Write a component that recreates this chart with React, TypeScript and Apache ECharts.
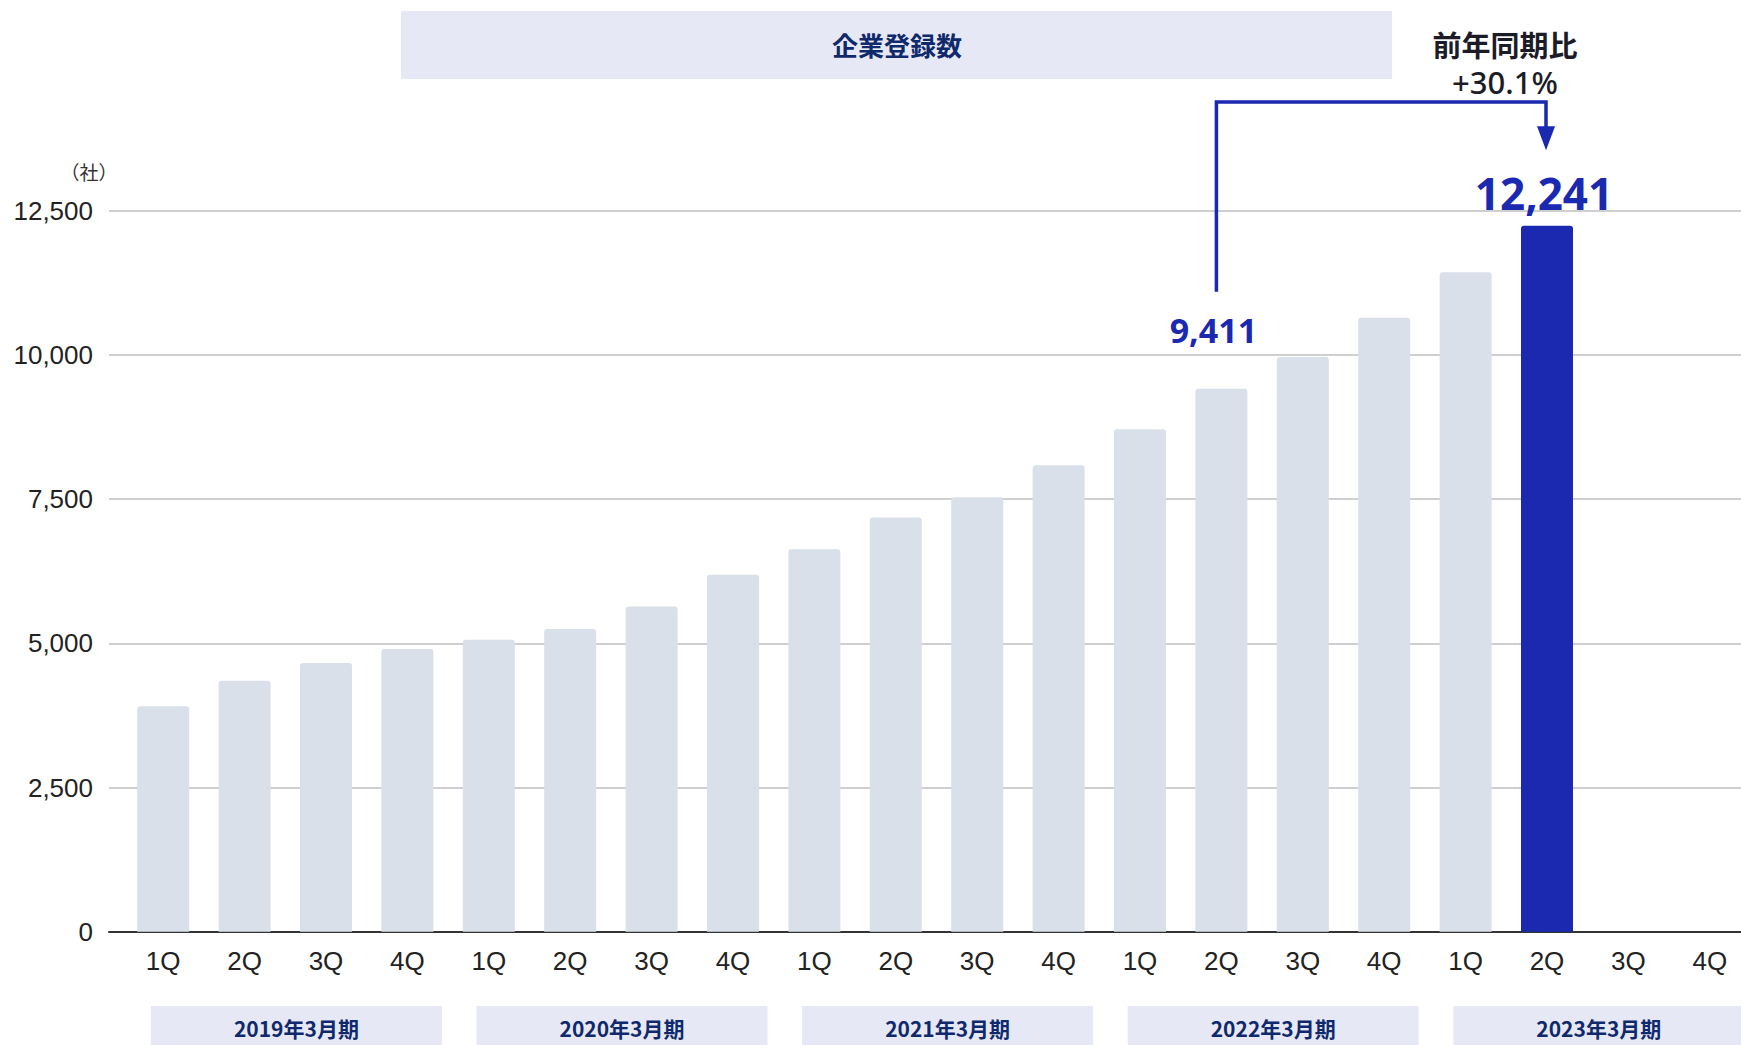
import React, { useEffect, useRef } from "react";
import * as echarts from "echarts";

const quarters = [
  "1Q", "2Q", "3Q", "4Q",
  "1Q", "2Q", "3Q", "4Q",
  "1Q", "2Q", "3Q", "4Q",
  "1Q", "2Q", "3Q", "4Q",
  "1Q", "2Q", "3Q", "4Q",
];
const fiscalYears = ["2019年3月期", "2020年3月期", "2021年3月期", "2022年3月期", "2023年3月期"];
const companies: (number | null)[] = [
  3910, 4350, 4660, 4900,
  5060, 5250, 5640, 6190,
  6630, 7180, 7530, 8085,
  8710, 9411, 9965, 10645,
  11435, 12241, null, null,
];
const yMin = 0;
const yMax = 12500;
const yInterval = 2500;
const highlightIndex = 17;
const compareIndex = 13;
const titleText = "企業登録数";
const unitText = "（社）";
const yoyLines = ["前年同期比", "+30.1%"];

const BLUE = "#1a29b0";
const GRAY_BAR = "#d9e0ea";
const BOX = "#e6e9f5";
const NAVY = "#10296c";
const fmt = (v: number) => v.toLocaleString("en-US");

const W = 1770;
const H = 1045;

export default function App() {
  const ref = useRef<HTMLDivElement>(null);
  useEffect(() => {
    document.body.style.margin = "0";
    document.body.style.overflow = "hidden";
    document.documentElement.style.overflow = "hidden";
    const chart = echarts.init(ref.current!, undefined, { renderer: "svg" });
    const top = 210.7;
    const bottom = 113.3;
    const data = companies.map((v, i) => {
      if (v == null) return { value: null };
      if (i === highlightIndex) {
        return {
          value: v,
          itemStyle: { color: BLUE },
          label: {
            show: true,
            position: "top",
            distance: 11,
            offset: [-3, 0],
            formatter: (p: any) => fmt(p.value),
            color: BLUE,
            fontSize: 44,
            fontWeight: "bold",
            fontFamily: "Noto Sans",
          },
        };
      }
      if (i === compareIndex) {
        return {
          value: v,
          label: {
            show: true,
            position: "top",
            distance: 42,
            offset: [-8, 0],
            formatter: (p: any) => fmt(p.value),
            color: BLUE,
            fontSize: 34,
            fontWeight: "bold",
            fontFamily: "Noto Sans",
          },
        };
      }
      return { value: v };
    });
    chart.setOption({
      animation: false,
      grid: [
        { left: 109, right: W - 1741, top, bottom },
        { left: 122.5, right: W - 1750.5, top, bottom },
        { left: 133.6, right: W - 1761.6, top, bottom },
      ],
      xAxis: [
        {
          gridIndex: 0,
          type: "category",
          data: ["", ""],
          boundaryGap: false,
          axisLine: { show: true, lineStyle: { color: "#333", width: 2 } },
          axisTick: { show: false },
          axisLabel: { show: false },
        },
        {
          gridIndex: 1,
          type: "category",
          data: quarters,
          axisLine: { show: false },
          axisTick: { show: false },
          axisLabel: {
            interval: 0,
            margin: 16,
            fontSize: 26,
            color: "#222",
            fontFamily: "Liberation Sans",
          },
        },
        {
          gridIndex: 2,
          type: "category",
          data: fiscalYears,
          show: false,
        },
      ],
      yAxis: [
        {
          gridIndex: 0,
          type: "value",
          min: yMin,
          max: yMax,
          interval: yInterval,
          axisLine: { show: false },
          axisTick: { show: false },
          axisLabel: {
            margin: 16,
            fontSize: 26,
            color: "#222",
            fontFamily: "Liberation Sans",
            formatter: (v: number) => fmt(v),
          },
          splitLine: { lineStyle: { color: "#cfcfcf", width: 2 } },
        },
        {
          gridIndex: 1,
          type: "value",
          min: yMin,
          max: yMax,
          interval: yInterval,
          show: false,
          splitLine: { show: false },
        },
        {
          gridIndex: 2,
          type: "value",
          min: 0,
          max: 1,
          show: false,
          splitLine: { show: false },
        },
      ],
      series: [
        {
          type: "bar",
          xAxisIndex: 1,
          yAxisIndex: 1,
          data,
          barWidth: 52,
          itemStyle: { color: GRAY_BAR, borderRadius: [3, 3, 0, 0] },
        },
      ],
    });

    const p13 = chart.convertToPixel({ seriesIndex: 0 }, [compareIndex, companies[compareIndex] as number]) as number[];
    const p17 = chart.convertToPixel({ seriesIndex: 0 }, [highlightIndex, companies[highlightIndex] as number]) as number[];
    const x1 = p13[0] - 5;
    const x2 = p17[0] - 1;
    const yBracket = 102;
    const yStart = p13[1] - 97;
    const tip = p17[1] - 75.5;
    const headH = 24;

    const yearGraphics: any[] = [];
    fiscalYears.forEach((fy) => {
      const cx = chart.convertToPixel({ xAxisIndex: 2 }, fy) as number;
      yearGraphics.push({
        type: "rect",
        shape: { x: cx - 145.5, y: 1006, width: 291, height: 44 },
        style: { fill: BOX },
        silent: true,
      });
      yearGraphics.push({
        type: "text",
        x: cx,
        y: 1028,
        style: {
          text: fy,
          fill: NAVY,
          fontSize: 21,
          fontWeight: "bold",
          fontFamily: "Noto Sans CJK JP",
          align: "center",
          verticalAlign: "middle",
        },
      });
    });

    chart.setOption({
      graphic: [
        {
          type: "rect",
          shape: { x: 401, y: 11, width: 991, height: 68 },
          style: { fill: BOX },
          silent: true,
        },
        {
          type: "text",
          x: 897,
          y: 44,
          style: {
            text: titleText,
            fill: NAVY,
            fontSize: 26,
            fontWeight: "bold",
            fontFamily: "Noto Sans CJK JP",
            align: "center",
            verticalAlign: "middle",
          },
        },
        {
          type: "text",
          x: 89,
          y: 171,
          style: {
            text: unitText,
            fill: "#333",
            fontSize: 19,
            fontFamily: "Noto Sans CJK JP",
            align: "center",
            verticalAlign: "middle",
          },
        },
        {
          type: "text",
          x: 1505,
          y: 44,
          style: {
            text: yoyLines[0],
            fill: "#1c1c28",
            fontSize: 29,
            fontWeight: "bold",
            fontFamily: "Noto Sans CJK JP",
            align: "center",
            verticalAlign: "middle",
          },
        },
        {
          type: "text",
          x: 1505,
          y: 82,
          style: {
            text: yoyLines[1],
            fill: "#1c1c28",
            fontSize: 31,
            fontWeight: 500,
            fontFamily: "Noto Sans",
            align: "center",
            verticalAlign: "middle",
          },
        },
        {
          type: "polyline",
          shape: {
            points: [
              [x1, yStart],
              [x1, yBracket],
              [x2, yBracket],
              [x2, tip - headH + 2],
            ],
          },
          style: { stroke: BLUE, lineWidth: 3.5, fill: "none" },
        },
        {
          type: "polygon",
          shape: {
            points: [
              [x2 - 9, tip - headH],
              [x2 + 9, tip - headH],
              [x2, tip],
            ],
          },
          style: { fill: BLUE },
        },
        ...yearGraphics,
      ],
    });

    return () => chart.dispose();
  }, []);
  return <div ref={ref} style={{ width: W, height: H }} />;
}
